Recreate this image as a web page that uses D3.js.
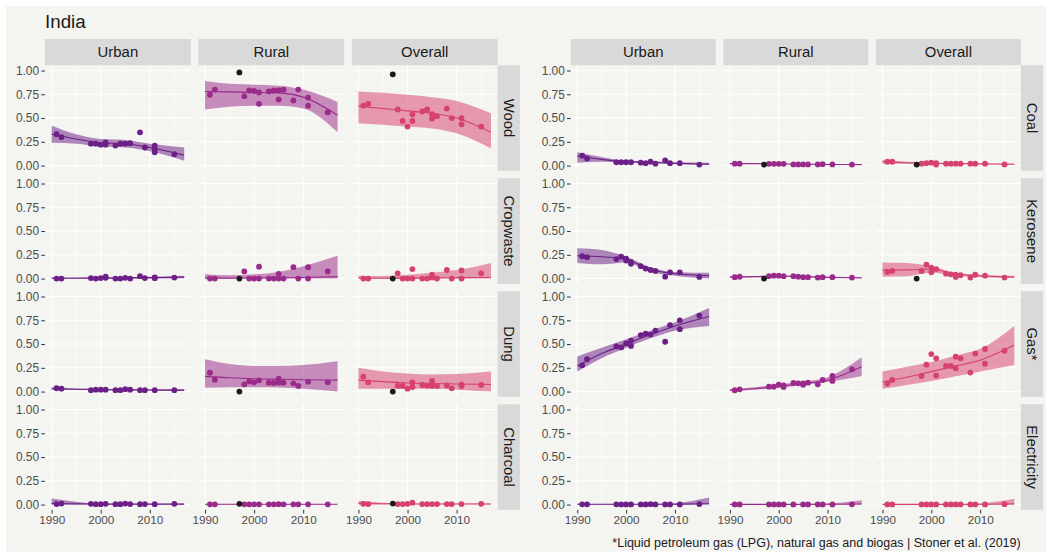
<!DOCTYPE html>
<html><head><meta charset="utf-8">
<script src="https://cdn.jsdelivr.net/npm/d3@7/dist/d3.min.js"></script>
<style>
body{margin:0;background:#fff}
svg{display:block;font-family:"Liberation Sans",Arial,Helvetica,sans-serif}
</style>
</head><body>
<svg id="chart" width="1046" height="553"></svg>
<script>
// ---------- categories / ticks ----------
const fuelsLeft = ["Wood", "Cropwaste", "Dung", "Charcoal"];
const fuelsRight = ["Coal", "Kerosene", "Gas*", "Electricity"];
const areas = ["Urban", "Rural", "Overall"];
const areaColors = ["#6b1f87", "#9a2b8a", "#d6416f"];
const xTicks = [1990, 2000, 2010];
const xMinor = [1995, 2005, 2015];
const yTicks = [0, 0.25, 0.5, 0.75, 1];
const yMinor = [0.125, 0.375, 0.625, 0.875];
const fitYears = [1990, 1995, 2000, 2005, 2010, 2017];
const blackYear = 1997;

// ---------- observed shares: [year, share] for Urban, Rural, Overall ----------
const woodPoints = [
  [[1991,.33],[1992,.30],[1998,.23],[1999,.23],[2000,.22],[2001,.245],[2001,.22],[2003,.21],[2004,.23],[2005,.23],[2006,.235],[2008,.35],[2009,.19],[2011,.21],[2011,.175],[2011,.14],[2015,.12]],
  [[1991,.745],[1992,.80],[1998,.73],[1999,.79],[2000,.785],[2001,.77],[2001,.65],[2003,.78],[2004,.79],[2005,.79],[2005,.695],[2006,.80],[2008,.685],[2009,.80],[2011,.715],[2011,.63],[2015,.56]],
  [[1991,.63],[1992,.65],[1998,.59],[1999,.47],[2000,.41],[2001,.54],[2001,.47],[2003,.57],[2004,.59],[2005,.54],[2005,.495],[2006,.52],[2008,.60],[2009,.50],[2011,.50],[2011,.435],[2015,.41]]
];
const woodMid = [[.33,.28,.24,.23,.19,.11],[.78,.775,.77,.765,.72,.53],[.625,.60,.575,.55,.50,.35]];
const woodLo  = [[.24,.23,.20,.19,.15,.05],[.59,.62,.63,.63,.60,.35],[.445,.43,.41,.39,.34,.18]];
const woodHi  = [[.42,.33,.28,.27,.23,.19],[.89,.86,.85,.84,.80,.67],[.78,.765,.745,.72,.68,.55]];
const woodBlack = [null, .98, .96];

const cropPoints = [
  [[1991,0],[1992,0],[1998,.005],[1999,0],[2000,.005],[2001,.02],[2001,.008],[2003,0],[2004,0],[2005,.008],[2006,0],[2008,.025],[2009,.005],[2011,.012],[2011,.004],[2015,.01]],
  [[1991,0],[1992,0],[1998,.075],[1999,0],[2000,0],[2001,.125],[2001,0],[2003,0],[2004,0],[2005,.05],[2005,0],[2006,0],[2008,.12],[2009,0],[2011,.12],[2011,0],[2015,.075]],
  [[1991,0],[1992,0],[1998,.055],[1999,0],[2000,0],[2001,.10],[2001,0],[2003,0],[2004,0],[2005,.04],[2005,.01],[2006,0],[2008,.09],[2009,0],[2011,.085],[2011,0],[2015,.055]]
];
const cropMid = [[.003,.004,.005,.007,.01,.015],[.005,.005,.006,.008,.012,.02],[.003,.004,.005,.007,.01,.012]];
const cropLo  = [[0,0,0,0,0,.003],[0,0,0,0,0,0],[0,0,0,0,0,0]];
const cropHi  = [[.01,.01,.012,.015,.02,.03],[.045,.035,.045,.07,.13,.24],[.03,.028,.04,.06,.09,.165]];
const cropBlack = [null, 0, 0];

const dungPoints = [
  [[1991,.035],[1992,.03],[1998,.015],[1999,.02],[2000,.02],[2001,.02],[2003,.015],[2004,.015],[2005,.025],[2006,.02],[2008,.015],[2009,.015],[2011,.015],[2015,.015]],
  [[1991,.198],[1992,.125],[1998,.076],[1999,.107],[2000,.097],[2001,.118],[2003,.094],[2004,.09],[2005,.136],[2005,.094],[2006,.094],[2008,.087],[2009,.059],[2011,.104],[2015,.097]],
  [[1991,.157],[1992,.097],[1998,.059],[1999,.059],[2000,.031],[2001,.097],[2001,.048],[2003,.069],[2004,.062],[2005,.111],[2005,.059],[2006,.059],[2008,.066],[2009,.034],[2011,.073],[2011,.059],[2015,.069]]
];
const dungMid = [[.03,.025,.02,.018,.016,.015],[.16,.145,.135,.13,.125,.12],[.12,.105,.09,.085,.08,.075]];
const dungLo  = [[.02,.018,.014,.012,.01,.005],[.04,.045,.045,.042,.03,0],[.03,.03,.03,.03,.02,0]];
const dungHi  = [[.045,.033,.027,.025,.024,.025],[.34,.29,.27,.27,.28,.32],[.25,.21,.19,.18,.185,.21]];
const dungBlack = [null, 0, 0];

const charPoints = [
  [[1991,.005],[1992,.01],[1998,.008],[1999,.004],[2000,.004],[2001,.008],[2003,.004],[2004,.004],[2005,.01],[2006,.005],[2008,.004],[2009,.005],[2011,.004],[2015,.008]],
  [[1991,.003],[1992,.003],[1998,.003],[1999,.003],[2000,.003],[2001,.003],[2003,.003],[2004,.003],[2005,.004],[2006,.003],[2008,.003],[2009,.003],[2011,.003],[2015,.003]],
  [[1991,.008],[1992,.005],[1998,.005],[1999,.005],[2000,.008],[2001,.02],[2003,.005],[2004,.005],[2005,.005],[2006,.005],[2008,.005],[2009,.005],[2011,.005],[2015,.008]]
];
const charMid = [[.01,.007,.005,.005,.005,.005],[.003,.003,.003,.003,.003,.003],[.01,.008,.007,.006,.006,.006]];
const charLo  = [[0,0,.002,.002,.002,.002],[.001,.001,.001,.001,.001,.001],[0,.002,.003,.003,.003,.002]];
const charHi  = [[.065,.03,.01,.008,.008,.01],[.006,.006,.006,.006,.006,.006],[.04,.02,.012,.01,.01,.012]];
const charBlack = [null, .008, .01];

const coalPoints = [
  [[1991,.105],[1992,.075],[1998,.035],[1999,.035],[2000,.035],[2001,.035],[2003,.03],[2004,.025],[2005,.04],[2006,.02],[2008,.055],[2009,.025],[2011,.025],[2015,.01]],
  [[1991,.02],[1992,.02],[1998,.018],[1999,.018],[2000,.018],[2001,.018],[2003,.012],[2004,.012],[2005,.012],[2006,.012],[2008,.012],[2009,.015],[2011,.012],[2015,.01]],
  [[1991,.04],[1992,.04],[1998,.02],[1999,.025],[2000,.03],[2001,.01],[2001,.025],[2003,.02],[2004,.02],[2005,.02],[2006,.02],[2008,.02],[2009,.02],[2011,.02],[2015,.012]]
];
const coalMid = [[.10,.065,.04,.035,.025,.015],[.02,.02,.017,.014,.012,.01],[.04,.03,.024,.02,.018,.014]];
const coalLo  = [[.03,.04,.03,.025,.015,.005],[.015,.016,.014,.011,.009,.006],[.02,.02,.018,.015,.013,.008]];
const coalHi  = [[.14,.09,.05,.045,.035,.03],[.025,.024,.02,.017,.015,.014],[.06,.04,.03,.025,.023,.02]];
const coalBlack = [null, .01, .01];

const keroPoints = [
  [[1991,.235],[1992,.225],[1998,.205],[1999,.23],[2000,.21],[2000,.19],[2001,.175],[2001,.155],[2003,.13],[2004,.105],[2005,.09],[2006,.08],[2008,.02],[2009,.066],[2011,.066],[2015,.017]],
  [[1991,.015],[1992,.02],[1998,.025],[1999,.03],[2000,.03],[2001,.025],[2003,.025],[2004,.02],[2005,.015],[2006,.015],[2008,.01],[2009,.015],[2011,.015],[2015,.01]],
  [[1991,.07],[1992,.08],[1998,.08],[1999,.147],[2000,.116],[2000,.066],[2001,.10],[2003,.052],[2004,.045],[2005,.017],[2005,.042],[2006,.035],[2008,.01],[2009,.04],[2011,.03],[2015,.01]]
];
const keroMid = [[.24,.23,.20,.095,.05,.03],[.015,.02,.027,.02,.013,.008],[.09,.092,.10,.045,.03,.015]];
const keroLo  = [[.165,.15,.17,.07,.03,0],[.008,.014,.022,.016,.009,.002],[.02,.025,.06,.03,.015,.005]];
const keroHi  = [[.32,.30,.23,.12,.07,.06],[.022,.026,.032,.025,.018,.015],[.17,.165,.13,.06,.04,.03]];
const keroBlack = [null, 0, 0];

const gasPoints = [
  [[1991,.276],[1992,.34],[1998,.475],[1999,.465],[2000,.507],[2001,.535],[2001,.48],[2003,.594],[2004,.61],[2005,.60],[2006,.64],[2008,.524],[2009,.70],[2011,.75],[2011,.657],[2015,.80]],
  [[1991,.014],[1992,.024],[1998,.052],[1999,.052],[2000,.073],[2001,.066],[2001,.049],[2003,.09],[2004,.087],[2005,.087],[2005,.073],[2006,.094],[2008,.077],[2009,.122],[2011,.164],[2011,.112],[2015,.234]],
  [[1991,.084],[1992,.122],[1998,.164],[1999,.283],[2000,.395],[2001,.35],[2001,.168],[2003,.27],[2004,.27],[2005,.367],[2005,.245],[2006,.35],[2008,.20],[2009,.40],[2011,.448],[2011,.294],[2015,.43]]
];
const gasMid = [[.27,.40,.50,.60,.69,.79],[.015,.03,.055,.085,.12,.26],[.10,.15,.21,.27,.33,.49]];
const gasLo  = [[.21,.35,.46,.56,.64,.69],[.005,.02,.04,.07,.10,.165],[.03,.07,.11,.16,.21,.28]];
const gasHi  = [[.37,.46,.55,.64,.73,.88],[.025,.045,.075,.105,.15,.36],[.21,.26,.31,.38,.45,.69]];
const gasBlack = [null, null, null];

const elecPoints = [
  [[1991,.003],[1992,.003],[1998,.003],[1999,.002],[2000,.002],[2001,.002],[2003,.002],[2004,.002],[2005,.004],[2006,.002],[2008,.002],[2009,.002],[2011,.002],[2015,.005]],
  [[1991,.002],[1992,.002],[1998,.002],[1999,.002],[2000,.002],[2001,.002],[2003,.002],[2005,.002],[2006,.002],[2008,.002],[2009,.002],[2011,.002],[2015,.003]],
  [[1991,.002],[1992,.002],[1998,.002],[1999,.002],[2000,.002],[2001,.002],[2003,.002],[2004,.002],[2005,.002],[2006,.002],[2008,.002],[2009,.002],[2011,.002],[2015,.004]]
];
const elecMid = [[.003,.003,.003,.003,.004,.008],[.002,.002,.002,.002,.003,.006],[.002,.002,.002,.002,.003,.007]];
const elecLo  = [[0,.001,.001,.001,.001,0],[0,.001,.001,.001,.001,0],[0,.001,.001,.001,.001,0]];
const elecHi  = [[.008,.005,.005,.006,.015,.075],[.005,.004,.004,.005,.01,.045],[.005,.004,.004,.005,.012,.06]];
const elecBlack = [null, null, null];

const titleText = "India";
const captionText = "*Liquid petroleum gas (LPG), natural gas and biogas | Stoner et al. (2019)";

// ---------- assemble ----------
const leftData = [
  {pts: woodPoints, mid: woodMid, lo: woodLo, hi: woodHi, black: woodBlack},
  {pts: cropPoints, mid: cropMid, lo: cropLo, hi: cropHi, black: cropBlack},
  {pts: dungPoints, mid: dungMid, lo: dungLo, hi: dungHi, black: dungBlack},
  {pts: charPoints, mid: charMid, lo: charLo, hi: charHi, black: charBlack}
];
const rightData = [
  {pts: coalPoints, mid: coalMid, lo: coalLo, hi: coalHi, black: coalBlack},
  {pts: keroPoints, mid: keroMid, lo: keroLo, hi: keroHi, black: keroBlack},
  {pts: gasPoints, mid: gasMid, lo: gasLo, hi: gasHi, black: gasBlack},
  {pts: elecPoints, mid: elecMid, lo: elecLo, hi: elecHi, black: elecBlack}
];

// ---------- layout ----------
const BG = "#f4f4f1";
const svg = d3.select("#chart");
svg.append("rect").attr("x", 0).attr("y", 0).attr("width", 1046).attr("height", 553).attr("fill", "#ffffff");
svg.append("rect").attr("x", 6).attr("y", 6).attr("width", 1040).attr("height", 545.5).attr("fill", BG);

svg.append("text").attr("x", 45).attr("y", 28).attr("font-size", 18.8).attr("fill", "#1a1a1a").text(titleText);

const rowTop0 = 65.3, rowPitch = 113, panelH = 105.5;
const stripTop = 39;
const stripW = 22.3;

function drawGrid(fuels, data, x0, pitchX, panelW) {
  fuels.forEach((fuel, r) => {
    const py = rowTop0 + r * rowPitch;
    areas.forEach((area, c) => {
      const px = x0 + c * pitchX;
      const x = d3.scaleLinear().domain([1988.65, 2018.35]).range([px, px + panelW]);
      const y = d3.scaleLinear().domain([-0.055, 1.055]).range([py + panelH, py]);
      const g = svg.append("g");
      g.append("rect").attr("x", px).attr("y", py).attr("width", panelW).attr("height", panelH).attr("fill", BG);
      // grid
      g.selectAll(".ymin").data(yMinor).join("line")
        .attr("x1", px).attr("x2", px + panelW).attr("y1", d => y(d)).attr("y2", d => y(d))
        .attr("stroke", "#fff").attr("stroke-width", 0.55);
      g.selectAll(".xmin").data(xMinor).join("line")
        .attr("y1", py).attr("y2", py + panelH).attr("x1", d => x(d)).attr("x2", d => x(d))
        .attr("stroke", "#fff").attr("stroke-width", 0.55);
      g.selectAll(".ymaj").data(yTicks).join("line")
        .attr("x1", px).attr("x2", px + panelW).attr("y1", d => y(d)).attr("y2", d => y(d))
        .attr("stroke", "#fff").attr("stroke-width", 1.1);
      g.selectAll(".xmaj").data(xTicks).join("line")
        .attr("y1", py).attr("y2", py + panelH).attr("x1", d => x(d)).attr("x2", d => x(d))
        .attr("stroke", "#fff").attr("stroke-width", 1.1);

      const d = data[r];
      const fit = fitYears.map((yr, i) => ({yr, mid: d.mid[c][i], lo: d.lo[c][i], hi: d.hi[c][i]}));
      const col = areaColors[c];
      g.append("path").datum(fit)
        .attr("d", d3.area().x(e => x(e.yr)).y0(e => y(e.lo)).y1(e => y(e.hi)).curve(d3.curveMonotoneX))
        .attr("fill", col).attr("fill-opacity", 0.52);
      g.append("path").datum(fit)
        .attr("d", d3.line().x(e => x(e.yr)).y(e => y(e.mid)).curve(d3.curveMonotoneX))
        .attr("fill", "none").attr("stroke", col).attr("stroke-width", 1.1);
      g.selectAll(".pt").data(d.pts[c]).join("circle")
        .attr("cx", e => x(e[0])).attr("cy", e => y(e[1])).attr("r", 2.9).attr("fill", col);
      if (d.black[c] !== null) {
        g.append("circle").attr("cx", x(blackYear)).attr("cy", y(d.black[c])).attr("r", 2.9).attr("fill", "#1a1a1a");
      }

      // axes
      if (c === 0) {
        const ax = g.append("g").attr("transform", `translate(${px},0)`)
          .call(d3.axisLeft(y).tickValues(yTicks).tickFormat(d3.format(".2f")).tickSize(3.7).tickPadding(2.2));
        ax.select(".domain").remove();
        ax.selectAll("line").attr("stroke", "#333");
        ax.selectAll("text").attr("fill", "#4d4d4d").attr("font-size", 11.9).attr("font-family", null);
      }
      if (r === fuels.length - 1) {
        const ax = g.append("g").attr("transform", `translate(0,${py + panelH})`)
          .call(d3.axisBottom(x).tickValues(xTicks).tickFormat(d3.format("d")).tickSize(3.7).tickPadding(2.2));
        ax.select(".domain").remove();
        ax.selectAll("line").attr("stroke", "#333");
        ax.selectAll("text").attr("fill", "#4d4d4d").attr("font-size", 11.7).attr("font-family", null);
      }
      // strips
      if (r === 0) {
        g.append("rect").attr("x", px).attr("y", stripTop).attr("width", panelW).attr("height", rowTop0 - stripTop).attr("fill", "#d9d9d9");
        g.append("text").attr("x", px + panelW / 2).attr("y", (stripTop + rowTop0) / 2).attr("dy", "0.35em")
          .attr("text-anchor", "middle").attr("font-size", 14.9).attr("fill", "#1a1a1a").text(area);
      }
      if (c === areas.length - 1) {
        const sx = px + panelW;
        g.append("rect").attr("x", sx).attr("y", py).attr("width", stripW).attr("height", panelH).attr("fill", "#d9d9d9");
        g.append("text").attr("transform", `translate(${sx + stripW / 2},${py + panelH / 2}) rotate(90)`)
          .attr("dy", "0.35em").attr("text-anchor", "middle").attr("font-size", 14.9).attr("fill", "#1a1a1a").text(fuel);
      }
    });
  });
}

drawGrid(fuelsLeft, leftData, 45, 153.4, 145.8);
drawGrid(fuelsRight, rightData, 570.7, 152.6, 145);

svg.append("text").attr("x", 1020.7).attr("y", 546.5).attr("text-anchor", "end")
  .attr("font-size", 12.5).attr("fill", "#1a1a1a").text(captionText);
</script>
</body></html>
